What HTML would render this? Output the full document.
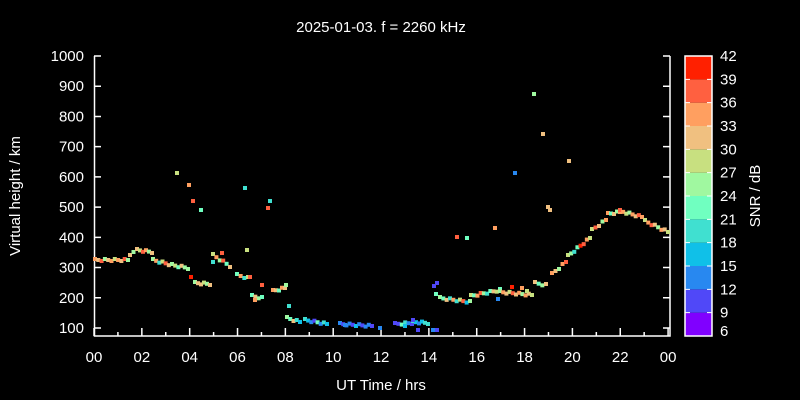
<!DOCTYPE html>
<html><head><meta charset="utf-8"><style>
body{margin:0;background:#000;}
svg{display:block;font-family:"Liberation Sans",sans-serif;}
</style></head><body>
<svg id="s" width="800" height="400" viewBox="0 0 800 400">
<rect width="800" height="400" fill="#000"/>
<text x="381" y="32" fill="#fff" font-size="15" text-anchor="middle">2025-01-03. f = 2260 kHz</text>
<text x="381" y="390" fill="#fff" font-size="15" text-anchor="middle">UT Time / hrs</text>
<text transform="translate(20,196) rotate(-90)" fill="#fff" font-size="15" text-anchor="middle">Virtual height / km</text>
<text transform="translate(760,196) rotate(-90)" fill="#fff" font-size="15" text-anchor="middle">SNR / dB</text>
<g id="ax" stroke="#fff" stroke-width="1.5" fill="none">
<path d="M94.5,56 V336 H670 V56"/>
</g>
<g id="lab" fill="#fff" font-size="15"></g>
<g id="pts"></g>
<g id="cb"></g>
</svg>
<script>
(function(){
const ns="http://www.w3.org/2000/svg";
function el(p,t,a,txt){const e=document.createElementNS(ns,t);for(const k in a)e.setAttribute(k,a[k]);if(txt!==undefined)e.textContent=txt;document.getElementById(p).appendChild(e);}
for(let v=100;v<=1000;v+=100){const y=328-(v-100)*0.3022;
el('ax','path',{d:`M94,${y}H101M670,${y}H663`});
el('lab','text',{x:84,y:y+5,'text-anchor':'end'},v);}
for(let h=0;h<=24;h++){const x=94+h*23.92;const L=h%2?4:8;
el('ax','path',{d:`M${x},336V${336-L}`});
if(h%2==0)el('lab','text',{x:x,y:362,'text-anchor':'middle'},String(h%24).padStart(2,'0'));}
const C=['#8000ff','#5048f8','#2888f0','#10c0e8','#40e0d0','#70ffc0','#a0f8a0','#c8e080','#f0c080','#ff9f60','#ff6040','#ff2000'];
const T0=56,bh=280/12;
for(let i=0;i<12;i++){el('cb','rect',{x:685,y:T0+(11-i)*bh,width:27,height:bh,fill:C[i]});}
for(let i=0;i<=12;i++){const y=T0+(12-i)*bh;
el('cb','path',{d:`M685,${y}H690M712,${y}H707`,stroke:'#fff','stroke-width':1});
el('lab','text',{x:720,y:Math.min(y+5,336),'text-anchor':'start'},6+3*i);}
el('cb','rect',{x:685,y:T0,width:27,height:280,fill:'none',stroke:'#fff','stroke-width':1.5});
const S=[
[95,260,128,260,[9,8,10,6,8,9,7]],
[130,256,137,248,[8,6,7]],
[137,250,152,252,[8,7,10,9,6]],
[153,260,172,265,[6,9,4,7,10,8]],
[172,265,188,268,[6,7,5,8,6]],
[195,283,210,284,[6,8,8,7]],
[213,255,230,266,[7,9,6,10,5,8]],
[237,275,248,278,[5,9,4,7]],
[252,296,262,298,[5,8,6]],
[273,291,285,288,[9,8,5]],
[287,318,300,322,[6,5,8,4,3]],
[305,320,327,324,[4,3,2,1,5,2]],
[340,324,372,326,[2,1,2,2,1,3]],
[395,324,412,323,[1,1,5,4,2]],
[413,322,428,323,[4,3,2,3,4]],
[440,298,470,302,[6,5,8,4,9,4,7,10,3]],
[471,296,500,290,[7,5,9,10,6,4,5,8]],
[500,292,532,295,[6,9,8,7,10,8,9]],
[535,283,546,285,[8,5,6]],
[552,274,566,262,[9,8,6,9,10]],
[568,256,590,238,[7,6,4,5,11,10,9]],
[592,230,606,220,[7,10,8,6,9]],
[608,214,620,212,[9,5,8,6]],
[620,211,642,217,[10,9,7,6,9,8]],
[645,221,668,232,[7,9,10,8,6,9,8]]];
function pt(x,y,c){el('pts','rect',{x:x-2,y:y-2,width:4,height:4,fill:C[c]});}
for(const s of S){const [x0,y0,x1,y1,cs]=s;const n=Math.max(2,Math.round((x1-x0)/3.2));
for(let i=0;i<=n;i++){const t=i/n;pt(x0+(x1-x0)*t,y0+(y1-y0)*t+((i*7)%3-1),cs[i%cs.length]);}}
const O=[[177,173,7],[189,185,9],[193,201,10],[201,210,5],[191,277,11],[245,188,4],[247,250,7],[268,208,10],[270,201,4],[222,253,10],[213,262,4],[262,285,10],[289,306,4],[286,285,6],[437,330,1],[433,330,2],[418,330,1],[413,320,1],[434,286,1],[437,283,1],[436,294,5],[457,237,10],[467,238,5],[495,228,9],[515,173,2],[534,94,6],[543,134,8],[548,207,8],[550,210,8],[569,161,8],[405,326,3],[345,325,2],[380,328,2],[512,287,11],[498,299,2],[522,288,9],[527,291,7],[255,300,9],[250,277,10]];
for(const o of O)pt(o[0],o[1],o[2]);
})();
</script>
</body></html>
